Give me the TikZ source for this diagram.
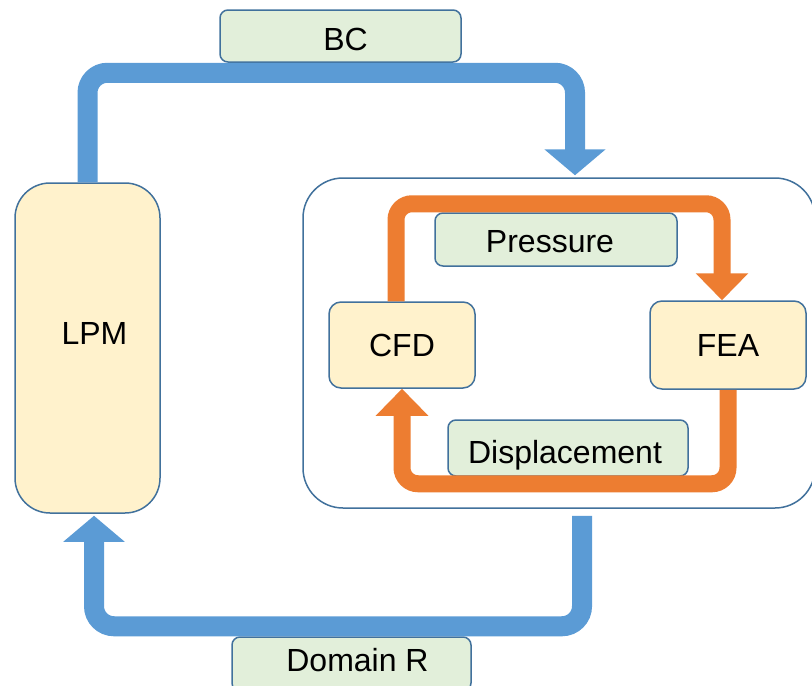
\documentclass[tikz,border=0pt]{standalone}
\usepackage{fontspec}
\setmainfont{Liberation Sans}
\usetikzlibrary{arrows.meta}
\definecolor{edge}{HTML}{41719C}
\definecolor{flowblue}{HTML}{5B9BD5}
\definecolor{floworange}{HTML}{ED7D31}
\definecolor{solverfill}{HTML}{FFF2CC}
\definecolor{datafill}{HTML}{E2EFDA}
\begin{document}
\begin{tikzpicture}[x=1pt,y=-1pt,
  every node/.style={inner sep=0pt,font=\fontsize{32}{38}\selectfont},
  every label/.style={inner sep=0pt,font=\fontsize{32}{38}\selectfont},
  solver/.style={draw=edge,line width=1.5pt,fill=solverfill,rounded corners=12pt},
  datum/.style={draw=edge,line width=1.5pt,fill=datafill,rounded corners=8pt},
  bluefl/.style={flowblue,line width=20pt,rounded corners=20pt,-{Triangle[width=60pt,length=26pt]}},
  orangefl/.style={floworange,line width=17pt,rounded corners=16pt,-{Triangle[width=51pt,length=27pt]}}]
\clip (0,0) rectangle (812,686);
\node [draw=edge,line width=1.5pt,fill=white,rounded corners=40pt,minimum width=512pt,minimum height=330pt] (cpl) at (559,343) {};
\node [solver,rounded corners=35pt,minimum width=145pt,minimum height=330pt,label={[xshift=7pt,yshift=15pt]center:LPM}] (lpm) at (87.5,348) {};
\node [solver,minimum width=146pt,minimum height=86pt] (cfd) at (402,345) {CFD};
\node [solver,minimum width=156pt,minimum height=88pt] (fea) at (728,345) {FEA};
\node [datum,minimum width=241pt,minimum height=52pt,label={[xshift=5pt,yshift=-3pt]center:BC}] (bc) at (340.5,36) {};
\node [datum,minimum width=242pt,minimum height=53pt,label={[xshift=-6pt,yshift=-2pt]center:Pressure}] (pres) at (556,239.5) {};
\node [datum,minimum width=240pt,minimum height=56pt,label={[xshift=-3pt,yshift=-7pt]center:Displacement}] (disp) at (568,448) {};
\node [datum,minimum width=239pt,minimum height=54pt,label={[xshift=6pt,yshift=4pt]center:Domain R}] (dom) at (351.5,664) {};
\draw [bluefl] (lpm.north) |- ([xshift=16pt,yshift=-10pt]cpl.north |- bc.south) -- ([xshift=16pt,yshift=2pt]cpl.north);
\draw [bluefl] ([xshift=23pt,yshift=-7pt]cpl.south) |- ([xshift=6.5pt,yshift=10pt]lpm.south |- dom.north) -- ([xshift=6.5pt,yshift=-2pt]lpm.south);
\draw [orangefl] ([xshift=-6pt]cfd.north) |- ([xshift=-6pt,yshift=8.5pt]fea.north |- pres.north) -- ([xshift=-6pt]fea.north);
\draw [orangefl] ([xshift=0pt]fea.south) |- ([xshift=0pt,yshift=-7pt]cfd.south |- disp.south) -- (cfd.south);
\end{tikzpicture}
\end{document}
